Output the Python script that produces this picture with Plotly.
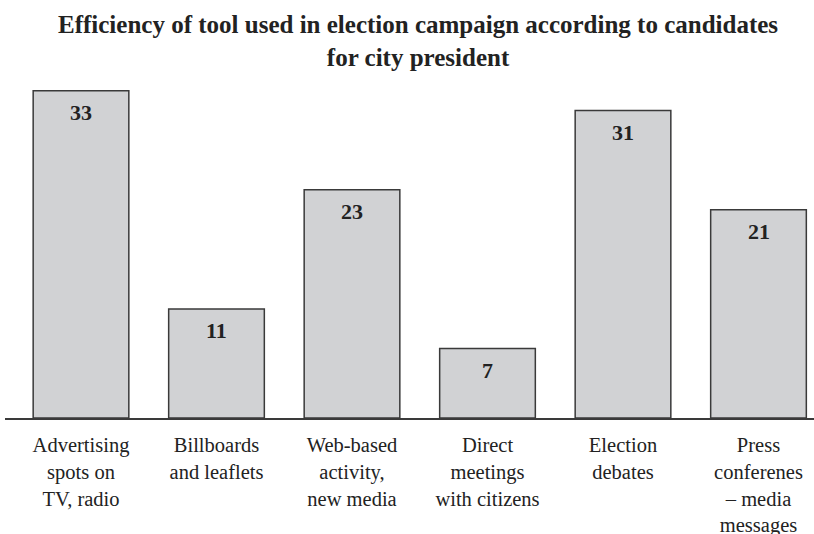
import plotly.graph_objects as go

categories = [
    "Advertising<br>spots on<br>TV, radio",
    "Billboards<br>and leaflets",
    "Web-based<br>activity,<br>new media",
    "Direct<br>meetings<br>with citizens",
    "Election<br>debates",
    "Press<br>conferenes<br>– media<br>messages",
]
values = [33, 11, 23, 7, 31, 21]
title_text = "Efficiency of tool used in election campaign according to candidates<br>for city president"

W, H = 814, 534
ml, mr, mt, mb = 5, 0, 80, 116
plot_h = H - mt - mb
plot_w = W - ml - mr
px_per_unit = 9.92
ymax = plot_h / px_per_unit
px_per_cat = 135.5
first_center_px = 81
x0 = -(first_center_px - ml) / px_per_cat
x1 = x0 + plot_w / px_per_cat

xs = list(range(len(values)))
serif = "Liberation Serif"

fig = go.Figure()
fig.add_trace(go.Bar(
    x=xs, y=values, width=0.706,
    marker=dict(color="#d1d2d4", line=dict(color="#3a3a3a", width=1.5)),
    hoverinfo="skip",
))

for x, v in zip(xs, values):
    fig.add_annotation(x=x, y=v, xref="x", yref="y", text=f"<b>{v}</b>",
                       showarrow=False, yanchor="middle", yshift=-22,
                       font=dict(family=serif, size=22, color="#222"))

fig.add_annotation(x=(807 - ml) / plot_w, y=1 + (mt - 6) / plot_h, xref="paper", yref="paper",
                   text="Table", showarrow=False, xanchor="right", yanchor="bottom",
                   font=dict(family=serif, size=18, color="#222"))

fig.add_annotation(x=(418 - ml) / plot_w, y=1 + (mt - 9) / plot_h, xref="paper", yref="paper",
                   text=f"<b>{title_text}</b>", showarrow=False, xanchor="center", yanchor="top",
                   font=dict(family=serif, size=25, color="#222"))

fig.update_layout(
    width=W, height=H,
    margin=dict(l=ml, r=mr, t=mt, b=mb, pad=0, autoexpand=False),
    paper_bgcolor="white", plot_bgcolor="white",
    showlegend=False,
    xaxis=dict(range=[x0, x1], tickvals=xs, ticktext=categories, showline=True,
               linecolor="#3a3a3a", linewidth=1.5, ticks="", showgrid=False, zeroline=False,
               automargin=False,
               tickfont=dict(family=serif, size=20.5, color="#222"), ticklabelstandoff=8),
    yaxis=dict(range=[0, ymax], visible=False, showgrid=False, zeroline=False),
)

fig.write_html("out.html", post_script="document.body.style.margin='0';",
               config={"displayModeBar": False})
